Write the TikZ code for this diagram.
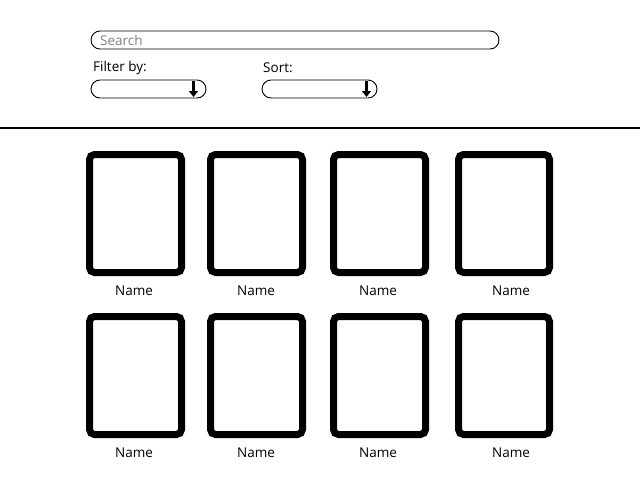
\documentclass[tikz,border=0pt]{standalone}
\usepackage{fontspec}
\setmainfont{Open Sans}
\usetikzlibrary{arrows.meta}
\begin{document}
\begin{tikzpicture}[x=1pt,y=-1pt,
  field/.style={draw=black,line width=0.9pt,rounded corners=9pt},
  card/.style={draw=black,line width=7pt,rounded corners=5pt},
  label/.style={font=\fontsize{13.5}{16}\selectfont,inner sep=0pt},
  drop/.style={line width=2.6pt,-{Triangle[length=6pt,width=9pt]}}]
\useasboundingbox (0,0) rectangle (640,480);
% search and filters
\draw[field] (91,31) rectangle (499,49);
\node[label,anchor=west,text=gray] (search) at (100,40.5) {Search};
\node[label,anchor=west] (filter) at (93,68) {Filter by:};
\node[label,anchor=west] (sort) at (263,68) {Sort:};
\draw[field] (91,80) rectangle (206,98);
\draw[field] (262,80) rectangle (377,98);
\coordinate (fa) at (193.5,81); \coordinate (fb) at (193.5,97);
\coordinate (sa) at (366.5,81); \coordinate (sb) at (366.5,97);
\draw[drop] (fa) -- (fb);
\draw[drop] (sa) -- (sb);
% divider
\coordinate (l) at (0,128); \coordinate (r) at (640,128);
\draw[line width=2.6pt] (l) -- (r);
% cards
\draw[card] (89.5,154.5) rectangle (181.5,272.5);
\draw[card] (210.5,154.5) rectangle (302.5,272.5);
\draw[card] (333.5,154.5) rectangle (425.5,272.5);
\draw[card] (458.5,154.5) rectangle (549.5,272.5);
\draw[card] (89.5,316.5) rectangle (181.5,434.5);
\draw[card] (210.5,316.5) rectangle (302.5,434.5);
\draw[card] (333.5,316.5) rectangle (425.5,434.5);
\draw[card] (458.5,316.5) rectangle (549.5,434.5);
\node[label] (n1) at (134,290.5) {Name};
\node[label] (n2) at (256,290.5) {Name};
\node[label] (n3) at (378,290.5) {Name};
\node[label] (n4) at (511,290.5) {Name};
\node[label] (n5) at (134,452.5) {Name};
\node[label] (n6) at (256,452.5) {Name};
\node[label] (n7) at (378,452.5) {Name};
\node[label] (n8) at (511,452.5) {Name};
\end{tikzpicture}
\end{document}
